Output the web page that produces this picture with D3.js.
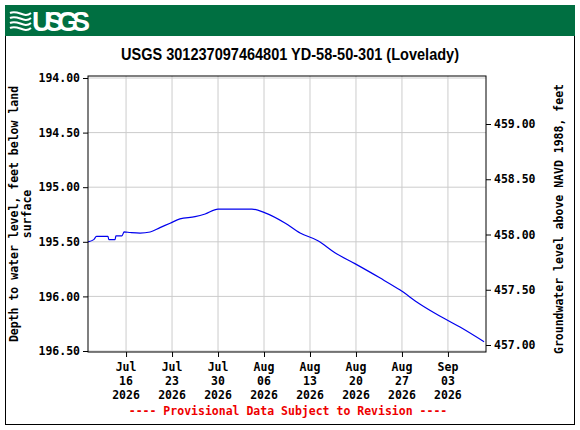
<!DOCTYPE html>
<html><head><meta charset="utf-8">
<script src="https://cdn.jsdelivr.net/npm/d3@7"></script>
<style>body{margin:0;background:#fff}</style>
</head><body>
<svg id="c" width="580" height="430"></svg>
<script>
const dates = ["2026-07-10T05:00","2026-07-11T02:00","2026-07-11T12:00","2026-07-13T06:00","2026-07-13T09:00","2026-07-14T08:00","2026-07-14T11:00","2026-07-15T09:00","2026-07-15T17:00","2026-07-16T15:00","2026-07-18T03:00","2026-07-19T16:00","2026-07-21T04:00","2026-07-22T17:00","2026-07-24T05:00","2026-07-26T12:00","2026-07-28T01:00","2026-07-30T00:00","2026-08-04T04:00","2026-08-06T04:00","2026-08-09T06:00","2026-08-11T12:00","2026-08-14T05:00","2026-08-16T19:00","2026-08-19T20:00","2026-08-23T15:00","2026-08-26T16:00","2026-08-29T17:00","2026-09-01T18:00","2026-09-04T20:00","2026-09-08T12:00"];
const depths = [195.50,195.48,195.45,195.45,195.48,195.48,195.445,195.445,195.41,195.415,195.42,195.41,195.37,195.33,195.29,195.27,195.245,195.20,195.20,195.235,195.33,195.42,195.49,195.60,195.70,195.83,195.94,196.07,196.18,196.28,196.415];
const leftTicks = [194.0,194.5,195.0,195.5,196.0,196.5];
const rightTicks = [457.0,457.5,458.0,458.5,459.0];
const xTickDates = ["2026-07-16","2026-07-23","2026-07-30","2026-08-06","2026-08-13","2026-08-20","2026-08-27","2026-09-03"];
const xTickLabels = [["Jul","16","2026"],["Jul","23","2026"],["Jul","30","2026"],["Aug","06","2026"],["Aug","13","2026"],["Aug","20","2026"],["Aug","27","2026"],["Sep","03","2026"]];

const svg = d3.select("#c");
const L=88,R=486,T=76,B=352;
const p = d3.timeParse("%Y-%m-%dT%H:%M"), pd = d3.timeParse("%Y-%m-%d");
const x = d3.scaleTime().domain([p("2026-07-10T05:00"), p("2026-09-08T19:00")]).range([L,R]);
const y = d3.scaleLinear().domain([194.0,196.5]).range([78,351]);
const y2 = d3.scaleLinear().domain([459,457]).range([124,345]);
const mono = "'DejaVu Sans Mono', monospace";

svg.append("rect").attr("x",5.5).attr("y",5.5).attr("width",569).attr("height",419).attr("fill","#fff").attr("stroke","#000");
svg.append("rect").attr("x",5).attr("y",5).attr("width",570).attr("height",31).attr("fill","#006f41");
const g0 = svg.append("g").attr("fill","none").attr("stroke","#fff").attr("stroke-width",2);
for(let i=0;i<4;i++) g0.append("path").attr("d",`M10 ${13+i*5} C18 ${9+i*5},24 ${19+i*5},31 ${13+i*5}`);
svg.append("text").attr("x",32).attr("y",31).attr("fill","#fff").attr("font-family","'Liberation Sans', Arial").attr("font-weight","bold").attr("font-size",27).attr("textLength",58).text("USGS");

svg.append("text").attr("x",290).attr("y",60).attr("text-anchor","middle").attr("font-family","'Liberation Sans', Arial").attr("font-weight","bold").attr("font-size",16.5).attr("textLength",338).attr("lengthAdjust","spacingAndGlyphs").text("USGS 301237097464801 YD-58-50-301 (Lovelady)");

const grid = svg.append("g").attr("stroke","#ccc");
leftTicks.forEach(v=>grid.append("line").attr("x1",L).attr("x2",R).attr("y1",y(v)).attr("y2",y(v)));
xTickDates.forEach(d=>grid.append("line").attr("y1",T).attr("y2",B).attr("x1",x(pd(d))).attr("x2",x(pd(d))));

const line = d3.line().x((d,i)=>x(p(dates[i]))).y(d=>y(d)).curve(d3.curveMonotoneX);
svg.append("path").attr("d",line(depths)).attr("fill","none").attr("stroke","#0000ee").attr("stroke-width",1.2);

svg.append("rect").attr("x",L).attr("y",T).attr("width",R-L).attr("height",B-T).attr("fill","none").attr("stroke","#000");

const ax = svg.append("g").attr("transform",`translate(${L},0)`).call(d3.axisLeft(y).tickValues(leftTicks).tickFormat(d3.format(".2f")).tickSize(5).tickPadding(3));
const ax2 = svg.append("g").attr("transform",`translate(${R},0)`).call(d3.axisRight(y2).tickValues(rightTicks).tickFormat(d3.format(".2f")).tickSize(5).tickPadding(3));
const axx = svg.append("g").attr("transform",`translate(0,${B})`).call(d3.axisBottom(x).tickValues(xTickDates.map(pd)).tickFormat("").tickSize(5));
[ax,ax2,axx].forEach(a=>{a.select(".domain").remove();a.selectAll("text").attr("font-family",mono).attr("font-weight","bold").attr("font-size",11.5).attr("fill","#000");});
xTickDates.forEach((d,i)=>{
  const t=svg.append("text").attr("x",x(pd(d))).attr("y",371).attr("text-anchor","middle").attr("font-family",mono).attr("font-weight","bold").attr("font-size",11.5);
  xTickLabels[i].forEach((s,j)=>t.append("tspan").attr("x",x(pd(d))).attr("dy",j?14:0).text(s));
});

const yl = svg.append("text").attr("transform","translate(18,214) rotate(-90)").attr("text-anchor","middle").attr("font-family",mono).attr("font-weight","bold").attr("font-size",11.5);
yl.append("tspan").attr("x",0).attr("dy",0).text("Depth to water level, feet below land");
yl.append("tspan").attr("x",0).attr("dy",13).text("surface");
svg.append("text").attr("transform","translate(563,219) rotate(-90)").attr("text-anchor","middle").attr("font-family",mono).attr("font-weight","bold").attr("font-size",11.5).text("Groundwater level above NAVD 1988, feet");

svg.append("text").attr("x",288).attr("y",415).attr("text-anchor","middle").attr("fill","#e00").attr("font-family",mono).attr("font-weight","bold").attr("font-size",11.5).text("---- Provisional Data Subject to Revision ----");
</script>
</body></html>
